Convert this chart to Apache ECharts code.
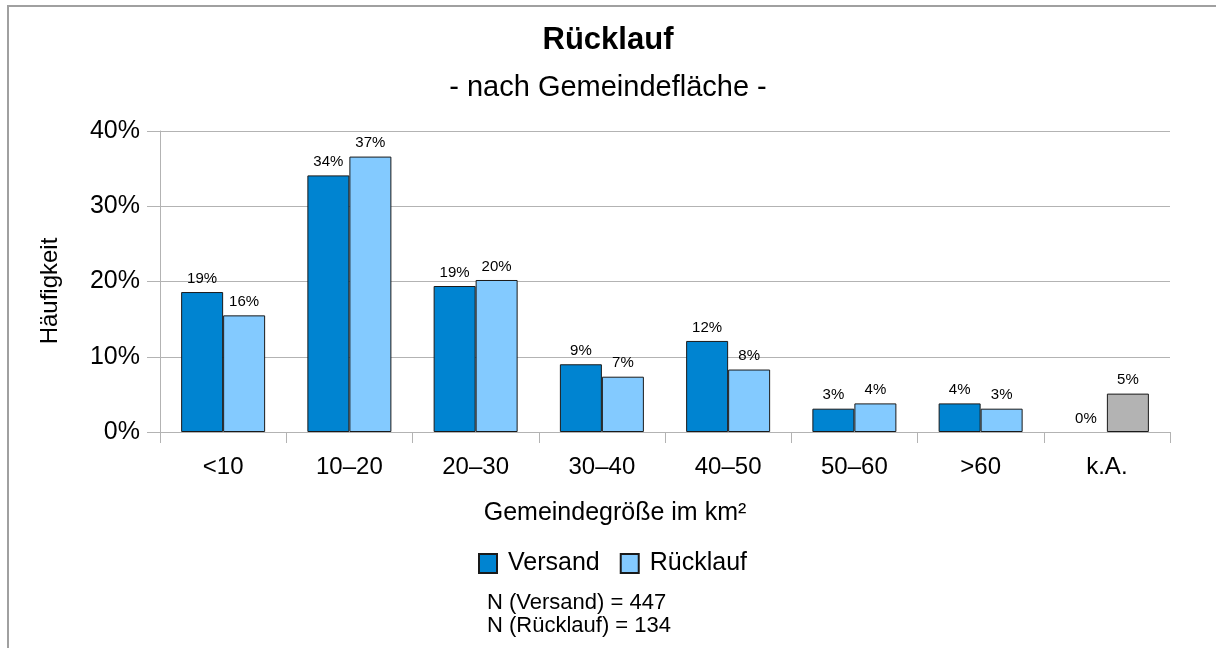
<!DOCTYPE html>
<html><head><meta charset="utf-8">
<script src="https://cdn.jsdelivr.net/npm/echarts@6/dist/echarts.min.js"></script>
<style>html,body{margin:0;padding:0;background:#fff}#c{width:1216px;height:648px}</style>
</head><body><div id="c"></div>
<script>
const categories = ['<10', '10\u201320', '20\u201330', '30\u201340', '40\u201350', '50\u201360', '>60', 'k.A.'];
const versand = [18.6, 34.1, 19.4, 9.0, 12.1, 3.1, 3.8, 0];
const ruecklauf = [15.5, 36.6, 20.2, 7.35, 8.3, 3.8, 3.1, 5.1];
const yTicks = [0, 10, 20, 30, 40];
const seriesNames = ['Versand', 'R\u00fccklauf'];
const nTexts = ['N (Versand) = 447', 'N (R\u00fccklauf) = 134'];

const FONT = 'Liberation Sans, Arial, sans-serif';
const chart = echarts.init(document.getElementById('c'), null, {renderer: 'canvas'});
const lbl = {show: true, position: 'top', distance: 6, fontFamily: FONT, fontSize: 15, color: '#000',
  formatter: p => Math.round(p.value) + '%'};
const border = {borderColor: '#1a1a1a', borderWidth: 1};
const last = categories.length - 1;
chart.setOption({
  animation: false,
  backgroundColor: '#fff',
  textStyle: {fontFamily: FONT},
  graphic: [
    {type: 'rect', shape: {x: 8, y: 6, width: 1300, height: 800}, style: {fill: 'none', stroke: '#a0a0a0', lineWidth: 2}, silent: true},
    {type: 'text', left: 'center', top: 25, style: {text: 'R\u00fccklauf', font: 'bold 31px ' + FONT, fill: '#000'}},
    {type: 'text', left: 'center', top: 73, style: {text: '- nach Gemeindefl\u00e4che -', font: '29px ' + FONT, fill: '#000'}},
    {type: 'text', x: 615, y: 513, style: {text: 'Gemeindegr\u00f6\u00dfe im km\u00b2', font: '25px ' + FONT, fill: '#000', align: 'center', verticalAlign: 'middle'}},
    {type: 'text', x: 50, y: 291, rotation: Math.PI / 2, style: {text: 'H\u00e4ufigkeit', font: '24px ' + FONT, fill: '#000', align: 'center', verticalAlign: 'middle'}},
    {type: 'text', x: 487, y: 591, style: {text: nTexts.join('\n'), font: '22px ' + FONT, lineHeight: 23, fill: '#000'}}
  ],
  legend: {
    left: 473, top: 546, itemWidth: 18, itemHeight: 19, itemGap: 20,
    textStyle: {fontFamily: FONT, fontSize: 25, color: '#000', padding: [0, 0, 0, 6]},
    data: seriesNames.map(n => ({name: n, icon: 'rect'}))
  },
  grid: {left: 160, right: 46, top: 131, bottom: 216, containLabel: false},
  xAxis: {
    type: 'category', data: categories,
    axisLine: {lineStyle: {color: '#b3b3b3', width: 1}},
    axisTick: {show: true, length: 11, lineStyle: {color: '#b3b3b3'}},
    axisLabel: {margin: 23, fontFamily: FONT, fontSize: 24, color: '#000'},
    splitLine: {show: false}
  },
  yAxis: {
    type: 'value', min: yTicks[0], max: yTicks[yTicks.length - 1], interval: 10,
    axisLine: {show: true, lineStyle: {color: '#b3b3b3', width: 1}},
    axisTick: {show: true, length: 13, lineStyle: {color: '#b3b3b3'}},
    axisLabel: {margin: 20, fontFamily: FONT, fontSize: 25, color: '#000', formatter: v => v + '%'},
    splitLine: {show: true, lineStyle: {color: '#b3b3b3', width: 1}}
  },
  series: [
    {name: seriesNames[0], type: 'bar', barWidth: 42, barGap: '0%',
      data: versand.map((v, i) => i === last ? {value: v, itemStyle: {borderWidth: 0}} : v),
      itemStyle: Object.assign({color: '#0084d1'}, border), label: lbl},
    {name: seriesNames[1], type: 'bar', barWidth: 42,
      data: ruecklauf.map((v, i) => i === last ? {value: v, itemStyle: {color: '#b3b3b3'}} : v),
      itemStyle: Object.assign({color: '#83caff'}, border), label: lbl}
  ]
});
</script></body></html>
